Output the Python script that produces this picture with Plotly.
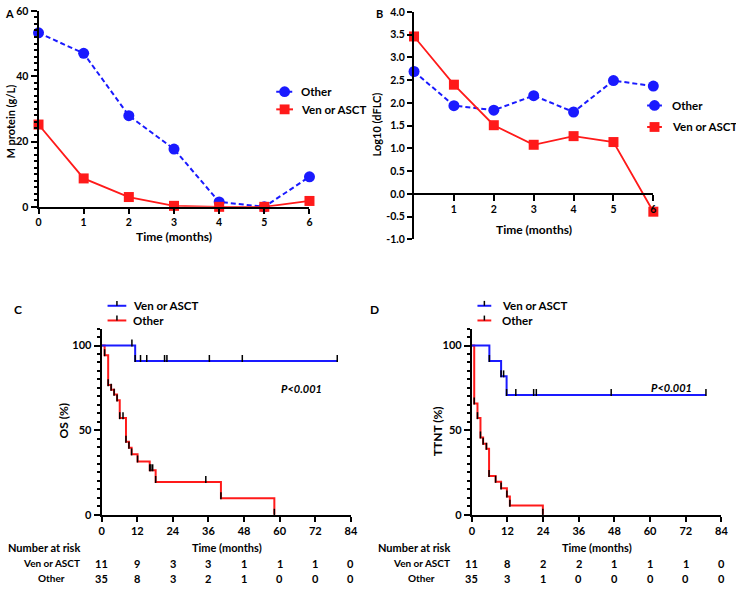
import plotly.graph_objects as go

W, H = 736, 590
FONT = "Lato, 'Open Sans', sans-serif"

# ---------------- Panel A data ----------------
months = [0, 1, 2, 3, 4, 5, 6]
a_other = [53.3, 47.0, 27.9, 17.7, 1.5, 0.0, 9.2]
a_ven = [25.2, 8.7, 3.0, 0.3, 0.0, 0.0, 1.8]

# ---------------- Panel B data ----------------
b_other = [2.69, 1.94, 1.84, 2.16, 1.80, 2.49, 2.37]
b_ven = [3.46, 2.40, 1.51, 1.08, 1.27, 1.14, -0.39]
b_yticks = [-1.0, -0.5, 0.0, 0.5, 1.0, 1.5, 2.0, 2.5, 3.0, 3.5, 4.0]
b_yticklabels = ["-1.0", "-0.5", "0.0", "0.5", "1.0", "1.5", "2.0", "2.5", "3.0", "3.5", "4.0"]

# ---------------- Panel C (OS) ----------------
c_ven_event_t = [11.3]
c_ven_event_s = [90.9]
c_ven_end = 79.4
c_ven_censor_t = [10.2, 13.1, 15.2, 21.2, 22.0, 36.3, 47.4, 79.4]

c_oth_event_t = [1.0, 2.2, 3.2, 4.2, 5.2, 6.1, 8.2, 9.2, 10.1, 12.1, 16.2, 18.2, 40.2, 58.2]
c_oth_event_s = [94.3, 76.6, 73.9, 71.0, 67.6, 57.1, 43.1, 39.6, 35.7, 31.5, 26.3, 19.4, 9.8, 0.0]
c_oth_end = 58.2
c_oth_censor_t = [7.2, 16.6, 17.2, 35.1]

# ---------------- Panel D (TTNT) ----------------
d_ven_event_t = [5.9, 9.85, 11.7]
d_ven_event_s = [90.9, 81.8, 70.8]
d_ven_end = 78.8
d_ven_censor_t = [10.7, 14.8, 20.8, 21.7, 46.9, 78.8]

d_oth_event_t = [0.8, 1.9, 2.9, 3.8, 4.9, 5.8, 8.0, 9.85, 11.8, 12.8, 23.9]
d_oth_event_s = [65.7, 57.1, 45.7, 42.0, 39.0, 22.9, 19.5, 15.6, 10.8, 5.4, 0.0]
d_oth_end = 23.9
d_oth_censor_t = []

km_xticks = [0, 12, 24, 36, 48, 60, 72, 84]
c_risk_ven = [11, 9, 3, 3, 1, 1, 1, 0]
c_risk_oth = [35, 8, 3, 2, 1, 0, 0, 0]
d_risk_ven = [11, 8, 2, 2, 1, 1, 1, 0]
d_risk_oth = [35, 3, 1, 0, 0, 0, 0, 0]

BLUE = "#1a1aff"
RED = "#ff1a1a"


def px(x):
    return x / W


def py(y):
    return 1 - y / H


fig = go.Figure()

A_x = [px(36), px(310.7)]
A_y = [py(205), py(5)]
B_x = [px(416.7), px(659.3)]
B_y = [py(238.3), py(6)]
C_x = [px(100), px(352.7)]
KM_y = [py(519.3), py(329.3)]
D_x = [px(475.3), px(728.3)]


def axis_common(fs=11):
    return dict(showgrid=False, zeroline=False, showline=True, linecolor="black",
                linewidth=2, ticks="outside", tickcolor="black", tickwidth=1.5,
                ticklabeloverflow="allow",
                tickfont=dict(size=fs, family=FONT, color="black", weight="bold"))


# ---------- Panel A ----------
fig.add_trace(go.Scatter(x=months, y=a_other, mode="lines+markers", xaxis="x", yaxis="y",
                         line=dict(color=BLUE, width=2, dash="5px,3px"),
                         marker=dict(symbol="circle", size=11, color=BLUE),
                         cliponaxis=False, showlegend=False))
fig.add_trace(go.Scatter(x=months, y=a_ven, mode="lines+markers", xaxis="x", yaxis="y",
                         line=dict(color=RED, width=1.8),
                         marker=dict(symbol="square", size=10, color=RED),
                         cliponaxis=False, showlegend=False))

# ---------- Panel B ----------
fig.add_trace(go.Scatter(x=months, y=b_other, mode="lines+markers", xaxis="x2", yaxis="y2",
                         line=dict(color=BLUE, width=2, dash="5px,3px"),
                         marker=dict(symbol="circle", size=11, color=BLUE),
                         cliponaxis=False, showlegend=False))
fig.add_trace(go.Scatter(x=months, y=b_ven, mode="lines+markers", xaxis="x2", yaxis="y2",
                         line=dict(color=RED, width=1.8),
                         marker=dict(symbol="square", size=10, color=RED),
                         cliponaxis=False, showlegend=False))


def step_xy(ev_t, ev_s, end):
    xs, ys = [0], [100.0]
    for t, s in zip(ev_t, ev_s):
        xs.append(t)
        ys.append(s)
    if end > xs[-1]:
        xs.append(end)
        ys.append(ys[-1])
    return xs, ys


def surv_at(t, ev_t, ev_s):
    s = 100.0
    for et, es in zip(ev_t, ev_s):
        if et <= t:
            s = es
    return s


KM_H_PX = 519.3 - 329.3
PX_PER_PCT = KM_H_PX / 110.0
TICK_PX = 5
tick_off = (TICK_PX / 2) / PX_PER_PCT


def add_km(ev_t, ev_s, end, censor_t, color, xa, ya):
    xs, ys = step_xy(ev_t, ev_s, end)
    fig.add_trace(go.Scatter(x=xs, y=ys, mode="lines", line=dict(color=color, width=2, shape="hv"),
                             xaxis=xa, yaxis=ya, showlegend=False, cliponaxis=False))
    tx = list(ev_t) + list(censor_t)
    ty = list(ev_s) + [surv_at(t, ev_t, ev_s) for t in censor_t]
    fig.add_trace(go.Scatter(x=tx, y=[v + tick_off for v in ty], mode="markers",
                             marker=dict(symbol="line-ns", size=TICK_PX,
                                         line=dict(color="black", width=1.5)),
                             xaxis=xa, yaxis=ya, showlegend=False, cliponaxis=False))


add_km(c_oth_event_t, c_oth_event_s, c_oth_end, c_oth_censor_t, RED, "x3", "y3")
add_km(c_ven_event_t, c_ven_event_s, c_ven_end, c_ven_censor_t, BLUE, "x3", "y3")
add_km(d_oth_event_t, d_oth_event_s, d_oth_end, d_oth_censor_t, RED, "x4", "y4")
add_km(d_ven_event_t, d_ven_event_s, d_ven_end, d_ven_censor_t, BLUE, "x4", "y4")

minor_km = dict(dtick=5, tick0=0, ticks="outside", ticklen=3, tickcolor="black", tickwidth=1.5)

fig.update_layout(
    width=W, height=H, margin=dict(l=0, r=0, t=0, b=0),
    paper_bgcolor="white", plot_bgcolor="white",
    font=dict(family=FONT, size=12, color="black", weight="bold"),
    xaxis=dict(domain=A_x, range=[0, 6], anchor="y", tickvals=months, ticklen=5, **axis_common(10.5)),
    yaxis=dict(domain=A_y, range=[0, 60], anchor="x", tickvals=[0, 20, 40, 60], ticklen=6,
               minor=dict(dtick=2, tick0=0, ticks="outside", ticklen=3, tickcolor="black", tickwidth=1.5),
               **axis_common(10.5)),
    xaxis2=dict(domain=B_x, range=[0, 6], anchor="free", position=py(191.7), tickvals=months[1:],
                ticklen=6, **axis_common(10.5)),
    yaxis2=dict(domain=B_y, range=[-1, 4], anchor="x2", tickvals=b_yticks, ticktext=b_yticklabels,
                ticklen=5, **axis_common(10.5)),
    xaxis3=dict(domain=C_x, range=[0, 84], anchor="y3", tickvals=km_xticks, ticklen=5, **axis_common()),
    yaxis3=dict(domain=KM_y, range=[0, 110], anchor="x3", tickvals=[0, 50, 100], ticklen=6,
                minor=minor_km, **axis_common()),
    xaxis4=dict(domain=D_x, range=[0, 84], anchor="y4", tickvals=km_xticks, ticklen=5, **axis_common()),
    yaxis4=dict(domain=KM_y, range=[0, 110], anchor="x4", tickvals=[0, 50, 100], ticklen=6,
                minor=minor_km, **axis_common()),
)

ann = []
shapes = []


def text(x, y, s, size=12, angle=0, anchor="center", italic=False):
    ann.append(dict(x=px(x), y=py(y), xref="paper", yref="paper", text=s, showarrow=False,
                    textangle=angle, xanchor=anchor, yanchor="middle",
                    font=dict(size=size, family=FONT, color="black", weight="bold",
                              style="italic" if italic else "normal")))


# Panel letters
text(7, 8, "A", 11)
text(382, 8, "B", 11)
text(15, 310, "C", 12)
text(377, 310, "D", 12)

# Axis titles
text(8, 118, "M protein (g/L)", 11, -90)
text(173, 235, "Time (months)", 12)
text(379, 121, "Log10 (dFLC)", 11, -90)
text(538, 228, "Time (months)", 12)
text(61, 423, "OS (%)", 12, -90)
text(440, 434, "TTNT (%)", 12, -90)

# P values
text(303, 390, "P<0.001", 11, italic=True)
text(678, 389, "P<0.001", 11, italic=True)


def leg_ab(x0, x1, y, color, dashed, sym, label, tx):
    shapes.append(dict(type="line", xref="paper", yref="paper", x0=px(x0), x1=px(x1), y0=py(y), y1=py(y),
                       line=dict(color=color, width=2, dash="4px,2px" if dashed else "solid")))
    cx = (x0 + x1) / 2
    r = 5.5 if sym == "circle" else 5
    shapes.append(dict(type="circle" if sym == "circle" else "rect", xref="paper", yref="paper",
                       x0=px(cx - r), x1=px(cx + r), y0=py(y - r), y1=py(y + r),
                       fillcolor=color, line=dict(color=color, width=0)))
    text(tx, y, label, 11.5, anchor="left")


leg_ab(277, 294, 87.5, BLUE, True, "circle", "Other", 300)
leg_ab(277, 294, 105.5, RED, False, "square", "Ven or ASCT", 300)
leg_ab(653, 668, 101.5, BLUE, True, "circle", "Other", 676)
leg_ab(653, 668, 123.5, RED, False, "square", "Ven or ASCT", 676)


def leg_km(x0, x1, y, color, label, tx):
    shapes.append(dict(type="line", xref="paper", yref="paper", x0=px(x0), x1=px(x1), y0=py(y), y1=py(y),
                       line=dict(color=color, width=2)))
    cx = (x0 + x1) / 2
    shapes.append(dict(type="line", xref="paper", yref="paper", x0=px(cx), x1=px(cx), y0=py(y), y1=py(y - 5),
                       line=dict(color="black", width=1.5)))
    text(tx, y, label, 11.5, anchor="left")


leg_km(106, 125, 306, BLUE, "Ven or ASCT", 130)
leg_km(106, 125, 321, RED, "Other", 130)
leg_km(481, 495, 306, BLUE, "Ven or ASCT", 504)
leg_km(481, 495, 321, RED, "Other", 504)

# Number at risk tables
text(42, 553, "Number at risk", 11)
text(227, 553, "Time (months)", 11)
text(49, 569, "Ven or ASCT", 10)
text(49, 584, "Other", 10)
text(417, 553, "Number at risk", 11)
text(602, 553, "Time (months)", 11)
text(424, 569, "Ven or ASCT", 10)
text(424, 584, "Other", 10)

for xa, rv, ro in (("x3", c_risk_ven, c_risk_oth), ("x4", d_risk_ven, d_risk_oth)):
    for t, v, o in zip(km_xticks, rv, ro):
        for val, yy in ((v, 569), (o, 584)):
            ann.append(dict(x=t, y=py(yy), xref=xa, yref="paper", text=str(val), showarrow=False,
                            xanchor="center", yanchor="middle",
                            font=dict(size=11, family=FONT, color="black", weight="bold")))

fig.update_layout(annotations=ann, shapes=shapes)
fig.write_html("out.html")
